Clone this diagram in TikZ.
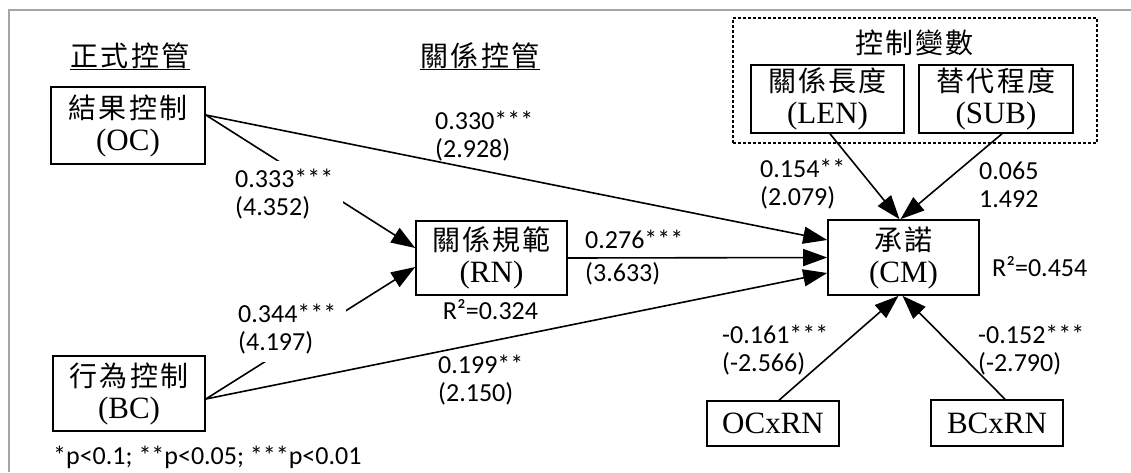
\documentclass[tikz,border=0pt]{standalone}
\usepackage{fontspec}
\setmainfont{Liberation Serif}
\newfontfamily\cjk[LetterSpace=8]{Noto Sans CJK TC}
\newfontfamily\num{Carlito}
\usetikzlibrary{arrows.meta,calc}
\begin{document}
\begin{tikzpicture}[x=1pt,y=-1pt,
  box/.style={draw,line width=1.6pt,align=center,inner sep=0pt,font=\fontsize{31}{32}\selectfont},
  lab/.style={font=\num\fontsize{26}{28}\selectfont,align=left,inner sep=0pt,anchor=west},
  gaplab/.style={lab,fill=white,inner xsep=10pt,inner ysep=8pt},
  title/.style={font=\cjk\fontsize{28}{32}\selectfont,inner sep=0pt},
  conn/.style={line width=1.6pt,-{Triangle[length=24pt,width=17pt]}}]
\useasboundingbox (0,0) rectangle (1131,472);
% frame
\draw[gray!70,line width=1.5pt] (9,472) -- (9,10) -- (1131,10);
% titles
\node[title] (t1) at (130,56) {正式控管};
\draw[line width=1.2pt] (t1.south west) -- (t1.south east);
\node[title] (t2) at (480,56) {關係控管};
\draw[line width=1.2pt] (t2.south west) -- (t2.south east);
% control group
\node[draw,line width=1.5pt,dash pattern=on 3pt off 2pt,minimum width=364pt,minimum height=125pt,inner sep=0pt] (ctrl) at (915,80.5) {};
\node[title] (t3) at (914.5,43) {控制變數};
% boxes
\node[box,minimum width=154pt,minimum height=77pt] (OC) at (128,125.5) {{\cjk\fontsize{28}{32}\selectfont 結果控制}\\(OC)};
\node[box,minimum width=151pt,minimum height=74pt] (RN) at (491.5,258) {{\cjk\fontsize{28}{32}\selectfont 關係規範}\\(RN)};
\node[box,minimum width=152pt,minimum height=75pt] (BC) at (129,393.5) {{\cjk\fontsize{28}{32}\selectfont 行為控制}\\(BC)};
\node[box,minimum width=151pt,minimum height=75pt] (CM) at (903.5,257.5) {{\cjk\fontsize{28}{32}\selectfont 承諾}\\(CM)};
\node[box,minimum width=153pt,minimum height=68pt] (LEN) at (827.5,99) {{\cjk\fontsize{28}{32}\selectfont 關係長度}\\(LEN)};
\node[box,minimum width=154pt,minimum height=68pt] (SUB) at (996,99) {{\cjk\fontsize{28}{32}\selectfont 替代程度}\\(SUB)};
\node[box,minimum width=132pt,minimum height=45pt] (OCxRN) at (773,423.5) {OCxRN};
\node[box,minimum width=132pt,minimum height=46pt] (BCxRN) at (997,423) {BCxRN};
% connectors
\draw[conn] ($(OC.east)+(0,-10.5)$) -- ($(CM.west)+(0,-17.5)$);
\draw[conn] ($(OC.east)+(0,-10.5)$) -- ($(RN.west)+(0,-10)$);
\draw[conn] ($(BC.east)+(0,5.5)$) -- ($(RN.west)+(0,9)$);
\draw[conn] ($(BC.east)+(0,5.5)$) -- ($(CM.west)+(0,15.5)$);
\draw[conn] (RN.east) -- (CM.west);
\draw[conn] ($(LEN.south)+(2.5,0)$) -- ($(CM.north)+(-4,0)$);
\draw[conn] ($(SUB.south)+(6,0)$) -- ($(CM.north)+(-3,0)$);
\draw[conn] ($(OCxRN.north)+(6,0)$) -- ($(CM.south)+(-5,0)$);
\draw[conn] ($(BCxRN.north)+(8,0)$) -- ($(CM.south)+(-1,0)$);
% labels
\node[lab] (l1) at (435,136.5) {0.330***\\(2.928)};
\node[gaplab] (l2) at (225,194) {0.333***\\(4.352)};
\node[gaplab] (l3) at (228,329) {0.344***\\(4.197)};
\node[lab] (l4) at (585,257.5) {0.276***\\[5pt](3.633)};
\node[lab] (l5) at (438,380) {0.199**\\(2.150)};
\node[lab] (l6) at (760,184) {0.154**\\(2.079)};
\node[lab] (l7) at (979,185) {0.065\\1.492};
\node[lab] (l8) at (722,350) {-0.161***\\(-2.566)};
\node[lab] (l9) at (978,350) {-0.152***\\(-2.790)};
\node[lab,anchor=center] (r1) at (490.5,310) {R²=0.324};
\node[lab] (r2) at (992,267) {R²=0.454};
\node[lab] (fn) at (53,457) {*p<0.1; **p<0.05; ***p<0.01};
\end{tikzpicture}
\end{document}
